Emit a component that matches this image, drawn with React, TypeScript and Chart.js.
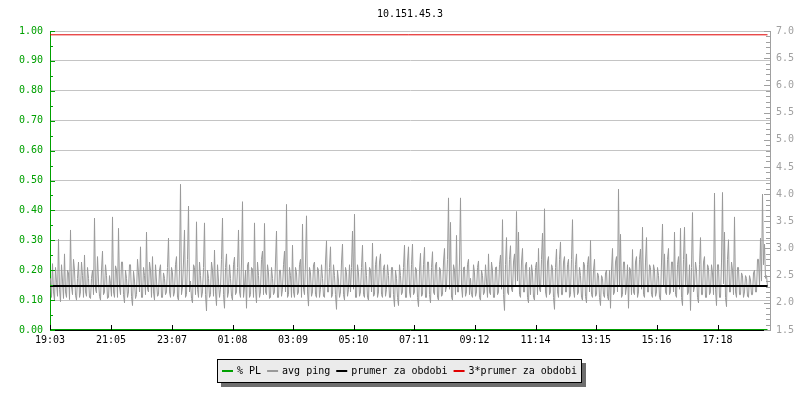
import { useEffect, useRef } from "react";
import { Chart, registerables } from "chart.js";

Chart.register(...registerables);

const chartTitle = "10.151.45.3";
const timeTickLabels = ["19:03", "21:05", "23:07", "01:08", "03:09", "05:10", "07:11", "09:12", "11:14", "13:15", "15:16", "17:18"];
const periodMinutes = 1440;
const sampleStepMinutes = 2;
const firstSampleMinute = 1;

// avg ping (ms), one sample every 2 minutes starting at 19:04
const avgPing = [
  2.45,2.1, 2.72,2.2, 2.05,2.65, 2.38,2.12, 3.17,2.25, 2.02,2.7, 2.4,2.08, 2.9,2.2, 2.1,2.6, 2.55,2.06, 3.34,2.3, 2.15,2.8, 2.6,2.14, 2.05,2.45, 2.75,2.1, 2.2,2.75, 2.5,2.1, 2.88,2.2, 2.12,2.65, 2.45,2.1, 2.08,2.45, 2.6,2.15, 3.56,2.25, 2.18,2.85, 2.4,2.12, 2.05,2.6, 2.95,2.15, 2.2,2.7, 2.5,2.08, 2.1,2.5,
  2.35,2.12, 3.58,2.2, 2.1,2.68, 2.6,2.1, 3.37,2.3, 2.15,2.75, 2.75,2.15, 2.0,2.6, 2.45,2.1, 2.2,2.7, 2.7,2.12, 1.95,2.58, 2.4,2.08, 2.15,2.8, 2.55,2.2, 3.03,2.1, 2.1,2.65, 2.5,2.15, 3.3,2.25, 2.2,2.75, 2.6,2.1, 2.85,2.2, 2.05,2.7, 2.4,2.12, 2.15,2.6, 2.7,2.1, 2.1,2.55, 2.45,2.15, 2.2,2.65, 3.19,2.2,
  2.1,2.65, 2.55,2.12, 2.2,2.7, 2.85,2.1, 2.05,2.6, 4.18,2.15, 2.3,2.75, 3.34,2.1, 2.15,2.8, 3.78,2.2, 2.4,2.08, 2.0,2.7, 2.65,2.15, 3.49,2.25, 2.1,2.75, 2.5,2.1, 2.2,2.65, 3.47,2.15, 1.85,2.6, 2.45,2.1, 2.15,2.75, 2.6,2.12, 2.97,2.2, 1.95,2.7, 2.4,2.1, 2.25,2.8, 3.56,2.15, 1.9,2.65, 2.9,2.1, 2.2,2.7,
  2.45,2.12, 2.05,2.7, 2.84,2.15, 2.2,2.65, 3.34,2.2, 2.1,2.75, 3.86,2.1, 2.3,2.6, 1.9,2.7, 2.75,2.1, 2.15,2.65, 2.62,2.1, 3.47,2.25, 2.0,2.75, 2.5,2.1, 2.2,2.8, 2.95,2.15, 3.46,2.2, 2.15,2.7, 2.55,2.08, 2.1,2.65, 2.45,2.15, 2.2,2.75, 3.32,2.1, 2.1,2.6, 2.6,2.12, 2.25,2.7, 2.95,2.2, 3.81,2.1, 2.15,2.65,
  2.5,2.1, 3.06,2.2, 2.1,2.65, 2.55,2.15, 2.2,2.7, 2.8,2.1, 3.45,2.25, 2.15,2.75, 3.6,2.2, 1.94,2.65, 2.55,2.12, 2.2,2.7, 2.75,2.15, 2.1,2.65, 2.6,2.1, 2.25,2.7, 2.45,2.12, 2.1,2.75, 3.14,2.2, 2.2,2.65, 3.03,2.1, 2.15,2.7, 2.5,2.15, 1.88,2.6, 2.4,2.1, 2.2,2.75, 3.08,2.15, 2.05,2.65, 2.55,2.12, 2.25,2.7,
  2.2,2.65, 3.32,2.25, 3.63,2.1, 2.1,2.7, 2.55,2.12, 2.2,2.65, 3.06,2.15, 2.1,2.75, 2.5,2.1, 2.05,2.65, 2.6,2.2, 3.1,2.12, 2.15,2.7, 2.85,2.1, 2.2,2.75, 2.9,2.15, 2.1,2.65, 2.7,2.12, 2.25,2.7, 2.5,2.1, 2.1,2.65, 2.65,2.15, 1.93,2.6, 2.45,2.1, 1.95,2.7, 2.5,2.15, 2.2,2.65, 3.06,2.1, 2.1,2.75, 3.03,2.2,
  2.1,2.7, 3.08,2.15, 2.2,2.65, 2.6,2.1, 1.93,2.6, 2.91,2.12, 2.15,2.7, 3.02,2.1, 2.1,2.75, 2.75,2.15, 2.0,2.65, 2.94,2.2, 2.15,2.7, 2.75,2.1, 2.05,2.65, 2.6,2.12, 2.15,2.75, 3.0,2.2, 2.3,2.8, 3.93,2.25, 3.48,2.1, 2.05,2.7, 2.6,2.15, 3.24,2.2, 2.2,2.75, 3.93,2.3, 2.1,2.65, 2.66,2.12, 2.2,2.7, 2.8,2.15,
  2.45,2.15, 2.1,2.7, 2.55,2.12, 2.2,2.65, 2.77,2.1, 2.05,2.6, 2.5,2.15, 2.2,2.7, 2.4,2.1, 2.9,2.2, 2.15,2.75, 2.6,2.1, 2.1,2.65, 2.66,2.15, 2.2,2.7, 2.88,2.25, 3.53,2.15, 1.86,2.7, 3.2,2.2, 2.15,2.8, 3.05,2.25, 2.2,2.75, 2.9,2.3, 3.68,2.4, 3.3,2.15, 2.1,2.75, 3.0,2.2, 2.2,2.7, 2.75,2.1, 2.0,2.65,
  2.15,2.7, 2.55,2.1, 2.05,2.65, 2.75,2.15, 3.0,2.25, 2.2,2.8, 3.28,2.3, 3.73,2.2, 2.1,2.75, 2.85,2.15, 2.2,2.7, 2.65,2.1, 1.88,2.65, 2.99,2.2, 2.1,2.8, 3.12,2.15, 2.15,2.75, 2.85,2.2, 2.2,2.7, 2.8,2.1, 2.15,2.8, 3.53,2.25, 2.1,2.7, 2.9,2.15, 2.2,2.65, 2.5,2.1, 2.05,2.75, 2.7,2.12, 2.0,2.7, 2.85,2.2,
  3.15,2.15, 2.1,2.6, 2.8,2.12, 2.15,2.55, 2.5,2.1, 1.95,2.5, 2.45,2.15, 2.1,2.55, 2.6,2.12, 2.05,2.6, 1.9,2.6, 3.0,2.15, 2.2,2.75, 2.85,2.2, 4.09,2.3, 3.26,2.1, 2.15,2.75, 2.75,2.15, 2.3,2.7, 1.9,2.65, 2.6,2.15, 2.98,2.2, 2.15,2.75, 2.85,2.1, 2.2,2.8, 2.99,2.25, 3.39,2.15, 2.1,2.75, 3.2,2.2, 2.2,2.7,
  2.65,2.15, 2.1,2.7, 2.6,2.12, 2.2,2.65, 2.5,2.1, 2.05,2.75, 3.45,2.3, 2.9,2.2, 2.15,2.8, 3.0,2.15, 2.2,2.75, 2.75,2.2, 3.3,2.15, 2.1,2.7, 2.85,2.25, 3.37,2.1, 1.95,2.8, 3.39,2.3, 2.9,2.15, 2.2,2.7, 1.86,2.65, 3.66,2.2, 2.3,2.75, 2.6,2.1, 2.0,2.7, 3.2,2.15, 2.15,2.75, 2.85,2.1, 2.1,2.7, 2.65,2.15,
  2.2,2.7, 2.55,2.15, 4.02,2.25, 1.95,2.7, 2.7,2.1, 2.1,2.75, 4.03,2.35, 3.3,2.1, 1.93,2.8, 3.16,2.2, 2.2,2.75, 2.6,2.15, 3.58,2.2, 2.1,2.65, 2.65,2.15, 2.15,2.55, 2.5,2.1, 2.2,2.5, 2.45,2.12, 2.1,2.5, 2.42,2.15, 2.15,2.55, 2.6,2.2, 2.2,2.8, 2.8,2.3, 3.19,2.4, 4.0,2.7, 3.08,2.45, 2.5,2.3,
];

const packetLoss = [0, 0];
const prumerZaObdobi = [2.31, 2.31];
const triplePrumer = [6.93, 6.93];

const seriesLabels = ["% PL", "avg ping", "prumer za obdobi", "3*prumer za obdobi"];
const seriesColors = ["#00a000", "#999999", "#000000", "#e00000"];

const FONT = '"DejaVu Sans Mono", "Liberation Mono", monospace';
const GREEN = "#00a000";
const GREY_AXIS = "#a0a0a0";

function toMinutes(label: string): number {
  const [h, m] = label.split(":").map(Number);
  return h * 60 + m;
}
const startMinutes = toMinutes(timeTickLabels[0]);
const timeTickMinutes = timeTickLabels.map((l) => {
  let d = toMinutes(l) - startMinutes;
  if (d < 0) d += 1440;
  return d;
});
const lastSample = firstSampleMinute + (avgPing.length - 1) * sampleStepMinutes;

const titlePlugin = {
  id: "plotTitle",
  afterDraw(chart: any) {
    const { ctx, chartArea } = chart;
    ctx.save();
    ctx.font = `10px ${FONT}`;
    ctx.fillStyle = "#000";
    ctx.textAlign = "center";
    ctx.textBaseline = "middle";
    ctx.fillText(chartTitle, (chartArea.left + chartArea.right) / 2, 14);
    ctx.restore();
  },
};

const innerTicksPlugin = {
  id: "innerTicks",
  afterDraw(chart: any) {
    const { ctx, chartArea } = chart;
    const { left, right, bottom } = chartArea;
    const yL = chart.scales.y;
    const yR = chart.scales.y1;
    const x = chart.scales.x;
    ctx.save();
    ctx.lineWidth = 1;
    ctx.strokeStyle = GREEN;
    for (let k = 0; k <= 20; k++) {
      const py = Math.round(yL.getPixelForValue(k * 0.05)) + 0.5;
      const len = k % 2 === 0 ? 5 : 3;
      ctx.beginPath();
      ctx.moveTo(left, py);
      ctx.lineTo(left + len, py);
      ctx.stroke();
    }
    ctx.strokeStyle = GREY_AXIS;
    for (let k = 0; k <= 55; k++) {
      const py = Math.round(yR.getPixelForValue(1.5 + k * 0.1)) + 0.5;
      const len = k % 5 === 0 ? 6 : 4;
      ctx.beginPath();
      ctx.moveTo(right - len, py);
      ctx.lineTo(right, py);
      ctx.stroke();
    }
    ctx.strokeStyle = "#000";
    timeTickMinutes.forEach((m) => {
      const px = Math.round(x.getPixelForValue(m)) + 0.5;
      ctx.beginPath();
      ctx.moveTo(px, bottom - 5);
      ctx.lineTo(px, bottom);
      ctx.stroke();
    });
    ctx.restore();
  },
};

const boxLegendPlugin = {
  id: "boxLegend",
  afterDraw(chart: any) {
    const { ctx } = chart;
    ctx.save();
    ctx.font = `10px ${FONT}`;
    const sw = 11;
    const gap = 4;
    const itemGap = 6;
    const padX = 5;
    const items = chart.data.datasets.map((ds: any) => ({ label: ds.label, color: ds.borderColor }));
    let w = padX * 2;
    items.forEach((it: any, i: number) => {
      w += sw + gap + ctx.measureText(it.label).width + (i < items.length - 1 ? itemGap : 0);
    });
    w = Math.round(w);
    const h = 24;
    const x0 = Math.round(399 - w / 2);
    const y0 = 359;
    ctx.fillStyle = "#6e6e6e";
    ctx.fillRect(x0 + 4, y0 + 4, w, h);
    ctx.fillStyle = "#ebebeb";
    ctx.fillRect(x0, y0, w, h);
    ctx.strokeStyle = "#000";
    ctx.lineWidth = 1;
    ctx.strokeRect(x0 + 0.5, y0 + 0.5, w - 1, h - 1);
    let cx = x0 + padX;
    const cy = y0 + 12;
    ctx.textBaseline = "middle";
    ctx.textAlign = "left";
    items.forEach((it: any) => {
      ctx.fillStyle = it.color;
      ctx.fillRect(cx, cy - 1, sw, 2);
      cx += sw + gap;
      ctx.fillStyle = "#000";
      ctx.fillText(it.label, cx, cy);
      cx += ctx.measureText(it.label).width + itemGap;
    });
    ctx.restore();
  },
};

export default function App() {
  const canvasRef = useRef<HTMLCanvasElement | null>(null);

  useEffect(() => {
    document.body.style.margin = "0";
    const canvas = canvasRef.current;
    if (!canvas) return;

    const pingPoints = avgPing.map((v, i) => ({ x: firstSampleMinute + i * sampleStepMinutes, y: v }));
    const ends = [0, lastSample];

    const chart = new Chart(canvas, {
      type: "line",
      data: {
        datasets: [
          {
            label: seriesLabels[0],
            data: packetLoss.map((v, i) => ({ x: ends[i], y: v })),
            borderColor: seriesColors[0],
            borderWidth: 2,
            yAxisID: "y",
            order: 0,
          },
          {
            label: seriesLabels[1],
            data: pingPoints,
            borderColor: seriesColors[1],
            borderWidth: 1,
            yAxisID: "y1",
            order: 3,
          },
          {
            label: seriesLabels[2],
            data: prumerZaObdobi.map((v, i) => ({ x: ends[i], y: v })),
            borderColor: seriesColors[2],
            borderWidth: 2,
            yAxisID: "y1",
            order: 1,
          },
          {
            label: seriesLabels[3],
            data: triplePrumer.map((v, i) => ({ x: ends[i], y: v })),
            borderColor: seriesColors[3],
            borderWidth: 1,
            yAxisID: "y1",
            order: 1,
          },
        ],
      },
      options: {
        animation: false,
        responsive: false,
        events: [],
        layout: { padding: { top: 31, bottom: 40, left: 0, right: 0 } },
        elements: { point: { radius: 0 }, line: { tension: 0 } },
        plugins: { legend: { display: false }, title: { display: false }, tooltip: { enabled: false } },
        scales: {
          x: {
            type: "linear",
            min: 0,
            max: periodMinutes,
            z: 1,
            grid: { display: false, drawTicks: false },
            border: { display: true, color: "#000", width: 1 },
            afterBuildTicks: (scale: any) => {
              scale.ticks = timeTickMinutes.map((v) => ({ value: v }));
            },
            afterFit: (scale: any) => {
              scale.height = 30;
            },
            ticks: {
              autoSkip: false,
              maxRotation: 0,
              padding: 4,
              color: "#000",
              font: { family: FONT, size: 10 },
              callback: (v: any) => {
                const idx = timeTickMinutes.indexOf(Number(v));
                return idx >= 0 ? timeTickLabels[idx] : "";
              },
            },
          },
          y: {
            position: "left",
            min: 0,
            max: 1,
            grid: { color: "#c4c4c4", drawTicks: false },
            border: { color: GREEN, width: 1 },
            afterFit: (scale: any) => {
              scale.width = 50;
            },
            ticks: {
              stepSize: 0.1,
              padding: 7,
              color: GREEN,
              font: { family: FONT, size: 10 },
              callback: (v: any) => Number(v).toFixed(2),
            },
          },
          y1: {
            position: "right",
            min: 1.5,
            max: 7,
            grid: { drawOnChartArea: false, drawTicks: false },
            border: { color: GREY_AXIS, width: 1 },
            afterFit: (scale: any) => {
              scale.width = 30;
            },
            ticks: {
              stepSize: 0.5,
              padding: 6,
              color: GREY_AXIS,
              font: { family: FONT, size: 10 },
              callback: (v: any) => Number(v).toFixed(1),
            },
          },
        },
      },
      plugins: [titlePlugin, innerTicksPlugin, boxLegendPlugin],
    } as any);

    return () => {
      chart.destroy();
    };
  }, []);

  return (
    <div style={{ width: 800, height: 400 }}>
      <canvas ref={canvasRef} width={800} height={400} style={{ display: "block" }} />
    </div>
  );
}
